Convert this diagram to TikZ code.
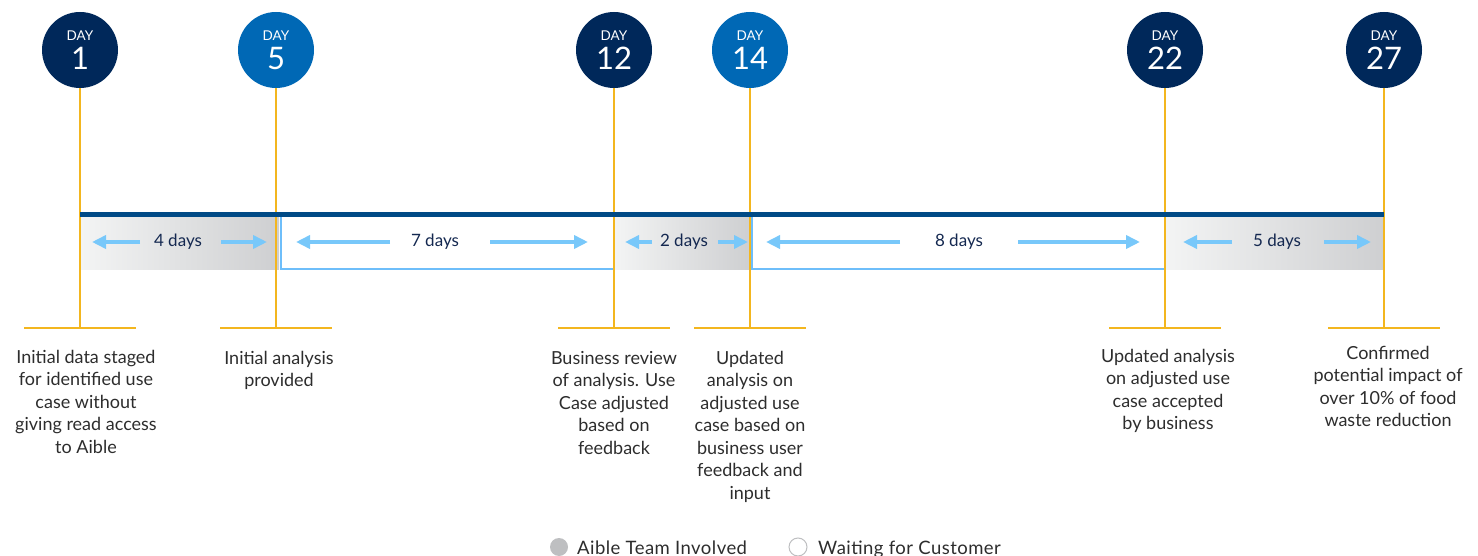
\documentclass[tikz,border=0pt]{standalone}
\usepackage{fontspec}
\setmainfont{Lato}
\usetikzlibrary{arrows.meta}

\definecolor{navy}{RGB}{0,40,90}
\definecolor{intelblue}{RGB}{0,104,181}
\definecolor{barblue}{RGB}{0,74,134}
\definecolor{gold}{RGB}{243,182,31}
\definecolor{skyblue}{RGB}{120,200,250}
\definecolor{boxline}{RGB}{110,190,250}
\definecolor{graylight}{RGB}{243,244,244}
\definecolor{graydark}{RGB}{206,207,209}
\definecolor{textgray}{RGB}{45,45,45}
\definecolor{daytext}{RGB}{20,40,80}
\definecolor{legendgray}{RGB}{190,191,193}

\tikzset{
  daycircle/.style={circle, minimum size=76pt, inner sep=0pt},
  goldline/.style={gold, line width=1.3pt},
  spanarrow/.style={skyblue, line width=4.5pt, -{Triangle[length=14pt,width=13pt]}},
  spantext/.style={daytext, font=\fontsize{17}{17}\selectfont},
  stepnote/.style={textgray, align=center, anchor=north, inner sep=0pt,
    font=\fontsize{18}{22.5}\selectfont},
}

\begin{document}
\begin{tikzpicture}[x=1pt,y=-1pt]
    \useasboundingbox (0,0) rectangle (1478,556);

    % Gray spans (Aible team involved)
    \foreach \a/\b in {81/279,615/750,1166/1384}
        \shade[left color=graylight, right color=graydark] (\a,217) rectangle (\b,269);

    % White spans (waiting for customer)
    \foreach \a/\b in {281/614,752/1165}
        \draw[boxline, line width=1.2pt] (\a,217) -- (\a,269) -- (\b,269);

    % Day circles and gold leader lines
    \foreach \d/\x/\c in {1/80/navy,5/276/intelblue,12/614/navy,14/750/intelblue,22/1165/navy,27/1384/navy} {
        \node[daycircle, fill=\c] (d\d) at (\x,50) {};
        \node[white, anchor=base, font=\fontsize{13.5}{13.5}\selectfont] (dl\d) at (\x,40.5) {DAY};
        \node[white, anchor=base, font=\fontsize{31}{31}\selectfont] (dn\d) at (\x,70) {\d};
        \coordinate (t\d) at (\x,328);
        \draw[goldline] (d\d.south) -- (t\d);
        \draw[goldline] ([xshift=-56pt]t\d) -- ([xshift=56pt]t\d);
    }

    % Timeline bar
    \draw[barblue, line width=5.5pt] (d1.south |- 0,214.5) -- (d27.south |- 0,214.5);

    % Span arrows and labels
    \foreach \n/\m/\la/\lb/\ra/\rb/\txt in {
        s1/178/140/92/221/267/4 days,
        s2/435/390/296/490/588/7 days,
        s3/684/652/625/718/748/2 days,
        s4/959/900/766/1018/1140/8 days,
        s5/1277/1232/1183/1324/1371/5 days} {
        \node[spantext] (\n) at (\m,242) {\txt};
        \coordinate (\n la) at (\la,242);
        \coordinate (\n lb) at (\lb,242);
        \coordinate (\n ra) at (\ra,242);
        \coordinate (\n rb) at (\rb,242);
        \draw[spanarrow] (\n la) -- (\n lb);
        \draw[spanarrow] (\n ra) -- (\n rb);
    }

    % Step notes
    \node[stepnote] (n1) at (86,350) {Initial data staged\\for identified use\\case without\\giving read access\\to Aible};
    \node[stepnote] (n5) at (279,351) {Initial analysis\\provided};
    \node[stepnote] (n12) at (614,351) {Business review\\of analysis. Use\\Case adjusted\\based on\\feedback};
    \node[stepnote] (n14) at (750,351) {Updated\\analysis on\\adjusted use\\case based on\\business user\\feedback and\\input};
    \node[stepnote] (n22) at (1168,349) {Updated analysis\\on adjusted use\\case accepted\\by business};
    \node[stepnote] (n27) at (1388,346) {Confirmed\\potential impact of\\over 10\% of food\\waste reduction};

    % Legend
    \node[circle, fill=legendgray, minimum size=18pt, inner sep=0pt] (k1) at (559,547) {};
    \node[textgray, anchor=base west, inner sep=0pt, font=\fontsize{18.5}{18.5}\selectfont\addfontfeatures{LetterSpace=2.5}] (k1t) at (577,554) {Aible Team Involved};
    \node[circle, draw=legendgray, line width=1pt, fill=white, minimum size=18pt, inner sep=0pt] (k2) at (798,547) {};
    \node[textgray, anchor=base west, inner sep=0pt, font=\fontsize{18.5}{18.5}\selectfont\addfontfeatures{LetterSpace=2.5}] (k2t) at (818,554) {Waiting for Customer};

\end{tikzpicture}
\end{document}
